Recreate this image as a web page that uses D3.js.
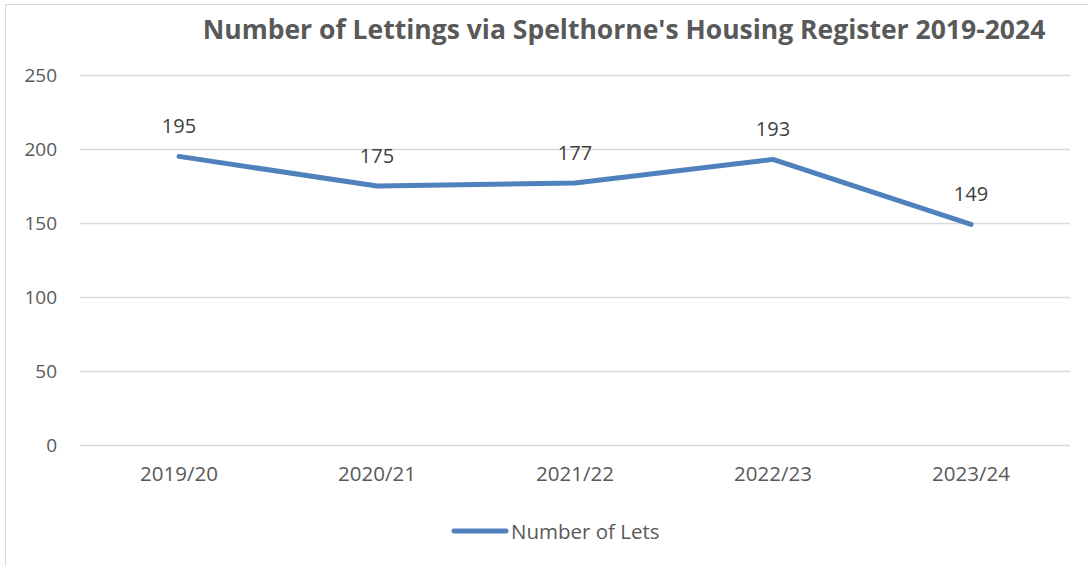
<!DOCTYPE html>
<html>
<head>
<meta charset="utf-8">
<script src="https://cdn.jsdelivr.net/npm/d3@7"></script>
<style>
  body { margin: 0; background: #fff; }
  text { font-family: "Open Sans", "Noto Sans", sans-serif; }
</style>
</head>
<body>
<div id="chart"></div>
<script>
// data
const years = ['2019/20', '2020/21', '2021/22', '2022/23', '2023/24'];
const lets = [195, 175, 177, 193, 149];
const yTicks = [0, 50, 100, 150, 200, 250];
const seriesName = 'Number of Lets';
const title = "Number of Lettings via Spelthorne's Housing Register 2019-2024";

const W = 1088, H = 566;
const MARGIN_LEFT = 80, MARGIN_RIGHT = 18, MARGIN_TOP = 75, MARGIN_BOTTOM = 121;
const FONT = '"Open Sans", "Noto Sans", sans-serif';

const $svg = d3.select('#chart').append('svg')
  .attr('width', W).attr('height', H);

// chart frame
$svg.append('rect')
  .attr('x', 5.5).attr('y', 4.5)
  .attr('width', W + 20).attr('height', H + 20)
  .attr('fill', 'none').attr('stroke', '#d9d9d9').attr('stroke-width', 1);

const xScale = d3.scaleBand().domain(years)
  .range([MARGIN_LEFT, W - MARGIN_RIGHT]);
const yScale = d3.scaleLinear().domain([0, 250])
  .range([H - MARGIN_BOTTOM, MARGIN_TOP]);

// title
$svg.append('text')
  .attr('x', 624).attr('y', 39)
  .attr('text-anchor', 'middle')
  .attr('font-size', 26.5).attr('font-weight', 'bold')
  .attr('fill', '#595959')
  .text(title);

// gridlines
$svg.append('g').selectAll('line')
  .data(yTicks).join('line')
  .attr('x1', MARGIN_LEFT).attr('x2', W - MARGIN_RIGHT)
  .attr('y1', d => Math.round(yScale(d)) + 0.5)
  .attr('y2', d => Math.round(yScale(d)) + 0.5)
  .attr('stroke', '#d9d9d9').attr('stroke-width', 1.5);

// y axis labels
const yAxis = d3.axisLeft(yScale).tickValues(yTicks).tickSize(0).tickPadding(0);
const $yAxis = $svg.append('g')
  .attr('transform', `translate(57,0)`)
  .call(yAxis);
$yAxis.select('.domain').remove();
$yAxis.selectAll('text')
  .attr('font-size', 19).attr('fill', '#595959')
  .attr('font-family', FONT);

// x axis labels
const xAxis = d3.axisBottom(xScale).tickSize(0).tickPadding(0);
const $xAxis = $svg.append('g')
  .attr('transform', `translate(0,${H - MARGIN_BOTTOM + 21})`)
  .call(xAxis);
$xAxis.select('.domain').remove();
$xAxis.selectAll('text')
  .attr('font-size', 20.5).attr('fill', '#595959')
  .attr('font-family', FONT);

// line
const cx = d => xScale(d) + xScale.bandwidth() / 2;
const line = d3.line()
  .x((d, i) => cx(years[i]))
  .y(d => yScale(d));

$svg.append('path')
  .datum(lets)
  .attr('d', line)
  .attr('fill', 'none')
  .attr('stroke', '#4f81bd')
  .attr('stroke-width', 5)
  .attr('stroke-linecap', 'round')
  .attr('stroke-linejoin', 'round');

// data labels
$svg.append('g').selectAll('text')
  .data(lets).join('text')
  .attr('x', (d, i) => cx(years[i]))
  .attr('y', d => yScale(d) - 23)
  .attr('text-anchor', 'middle')
  .attr('font-size', 20).attr('fill', '#404040')
  .text(d => d);

// legend
const $legend = $svg.append('g').attr('transform', 'translate(454,531)');
$legend.append('line')
  .attr('x1', 0).attr('x2', 52).attr('y1', 0).attr('y2', 0)
  .attr('stroke', '#4f81bd').attr('stroke-width', 5)
  .attr('stroke-linecap', 'round');
$legend.append('text')
  .attr('x', 57).attr('y', 7.5)
  .attr('font-size', 20.5).attr('fill', '#595959')
  .text(seriesName);
</script>
</body>
</html>
